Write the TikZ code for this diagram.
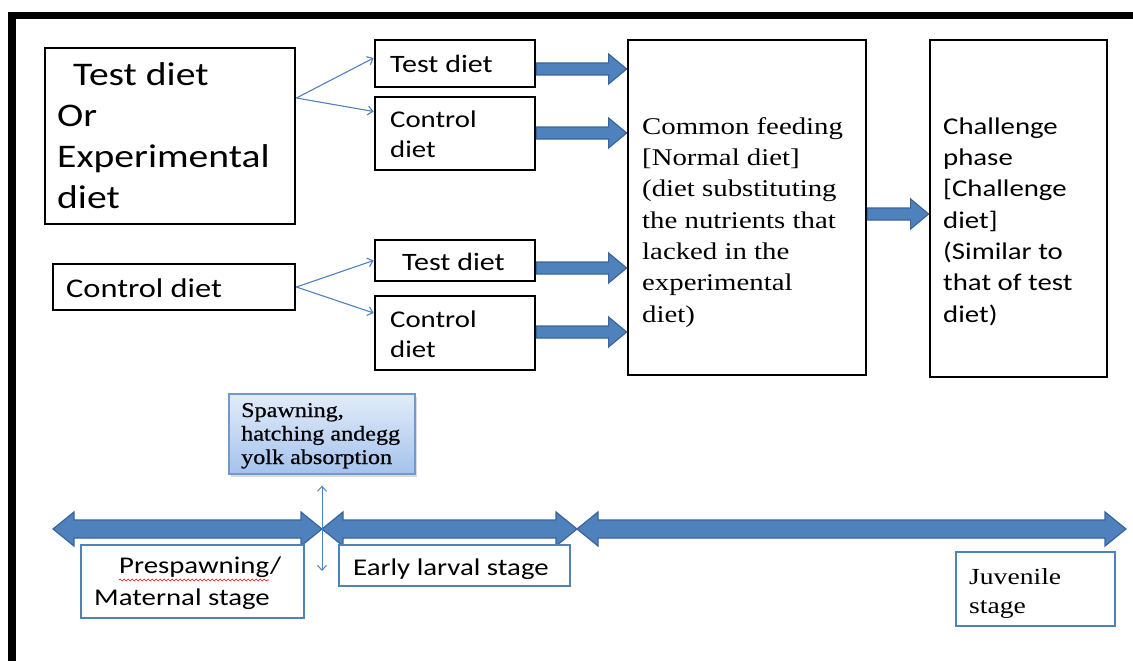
\documentclass[tikz,border=0pt]{standalone}
\usepackage{fontspec}
\setmainfont{Carlito}
\newfontfamily\calfont{Carlito}[FakeStretch=1.2]
\newfontfamily\serfont{Liberation Serif}[FakeStretch=1.2]
\newfontfamily\serboldish{Liberation Serif}[FakeStretch=1.15, FakeBold=0.6]
\usetikzlibrary{arrows.meta,calc,shadows,decorations.pathmorphing}

\definecolor{officeblue}{HTML}{4F81BD}
\definecolor{officeedge}{HTML}{3A659B}
\definecolor{spawntop}{HTML}{E2ECFA}
\definecolor{spawnbot}{HTML}{A4C2EC}
\definecolor{spawnedge}{HTML}{7099CF}

% broad horizontal block arrow with one head
\newcommand\fatarrow[2]{%
  \path[fat] let \p1=#1, \p2=#2 in
    (\x1,\y1+6pt) -- (\x2-18pt,\y1+6pt) -- (\x2-18pt,\y1+15pt) -- (\x2,\y1)
    -- (\x2-18pt,\y1-15pt) -- (\x2-18pt,\y1-6pt) -- (\x1,\y1-6pt) -- cycle;}
% broad horizontal block arrow with heads at both ends
\newcommand\stagearrow[2]{%
  \path[fat] let \p1=#1, \p2=#2 in
    (\x1,\y1) -- (\x1+21pt,\y1+17pt) -- (\x1+21pt,\y1+9pt) -- (\x2-21pt,\y1+9pt)
    -- (\x2-21pt,\y1+17pt) -- (\x2,\y1) -- (\x2-21pt,\y1-17pt) -- (\x2-21pt,\y1-9pt)
    -- (\x1+21pt,\y1-9pt) -- (\x1+21pt,\y1-17pt) -- cycle;}

\tikzset{
  blackbox/.style={draw=black, line width=2.8pt, fill=white, inner sep=0pt},
  bluebox/.style={draw=officeblue, line width=2.3pt, fill=white, inner sep=0pt},
  % multi-line texts are placed by the baseline of their last line
  txt/.style={anchor=base west, inner sep=0pt, align=left},
  fat/.style={fill=officeblue, draw=officeedge, line width=1.2pt, line join=miter},
  thinarrow/.style={draw=officeblue, line width=1.1pt,
    -{Straight Barb[length=5pt, width=9pt]}},
}

\begin{document}
\begin{tikzpicture}[x=1pt, y=-1pt]
\useasboundingbox (0,0) rectangle (1133,661);

% page frame
\fill[black] (7.5,12) rectangle (1133,19.5);
\fill[black] (7.5,12) rectangle (15.5,661);

% diet boxes
\node[blackbox, minimum width=250pt, minimum height=176pt] (A) at (170,136) {};
\node[blackbox, minimum width=160pt, minimum height=47pt] (B) at (455,63.5) {};
\node[blackbox, minimum width=160pt, minimum height=73pt] (C) at (455,133.5) {};
\node[blackbox, minimum width=242pt, minimum height=46pt] (D) at (174,287) {};
\node[blackbox, minimum width=160pt, minimum height=41pt] (E) at (455,260.5) {};
\node[blackbox, minimum width=160pt, minimum height=74pt] (F) at (455,333) {};
\node[blackbox, minimum width=238pt, minimum height=335pt] (G) at (747,207.5) {};
\node[blackbox, minimum width=177pt, minimum height=337pt] (H) at (1018.5,208.5) {};

\node[txt, font=\calfont\fontsize{33}{41}\selectfont] (At) at (57,208)
  {\hspace*{16pt}Test diet\\Or\\Experimental\\diet};
\node[txt, font=\calfont\fontsize{25}{31}\selectfont] (Bt) at (390,73) {Test diet};
\node[txt, font=\calfont\fontsize{24}{30.5}\selectfont] (Ct) at (390,157.5) {Control\\diet};
\node[txt, font=\calfont\fontsize{27}{33}\selectfont] (Dt) at (66,297) {Control diet};
\node[txt, font=\calfont\fontsize{25}{31}\selectfont] (Et) at (402,270) {Test diet};
\node[txt, font=\calfont\fontsize{24}{30.5}\selectfont] (Ft) at (390,357.5) {Control\\diet};
\node[txt, font=\serfont\fontsize{24}{31.3}\selectfont] (Gt) at (642,322)
  {Common feeding\\{[}Normal diet{]}\\(diet substituting\\the nutrients that\\lacked in the\\experimental\\diet)};
\node[txt, font=\calfont\fontsize{24}{31.3}\selectfont] (Ht) at (943,322)
  {Challenge\\phase\\{[}Challenge\\diet{]}\\(Similar to\\that of test\\diet)};

% splitting into the two groups
\draw[thinarrow] ([yshift=38pt]A.east) -- ([yshift=5.5pt]B.west);
\draw[thinarrow] ([yshift=38pt]A.east) -- ([yshift=22pt]C.west);
\draw[thinarrow] (D.east) -- (E.west);
\draw[thinarrow] (D.east) -- ([yshift=20pt]F.west);

% into common feeding, then the challenge
\fatarrow{([yshift=-5.5pt]B.east)}{(G.west)}
\fatarrow{([yshift=0.5pt]C.east)}{(G.west)}
\fatarrow{([yshift=-7.5pt]E.east)}{(G.west)}
\fatarrow{([yshift=1pt]F.east)}{(G.west)}
\fatarrow{([yshift=-6.5pt]G.east)}{(H.west)}

% timeline of life stages
\coordinate (t0) at (53,529);
\coordinate (t1) at (322,529);
\coordinate (t2) at (577,529);
\coordinate (t3) at (1126,529);
\stagearrow{(t0)}{(t1)}
\stagearrow{(t1)}{(t2)}
\stagearrow{(t2)}{(t3)}

\node[draw=spawnedge, line width=1.2pt, top color=spawntop, bottom color=spawnbot,
      minimum width=186pt, minimum height=80pt, inner sep=0pt,
      drop shadow={shadow xshift=2pt, shadow yshift=-3pt, opacity=0.3}] (S) at (322,434) {};
\node[txt, font=\serboldish\fontsize{21}{23.5}\selectfont] (St) at (241,464)
  {Spawning,\\hatching andegg\\yolk absorption};

\coordinate (vb) at (322,571);
\draw[draw=officeblue, line width=1pt,
      {Straight Barb[length=5pt, width=9pt]}-{Straight Barb[length=5pt, width=9pt]}]
  ([yshift=-11pt]S.south) -- (vb);

\node[bluebox, minimum width=223pt, minimum height=73pt] (P) at (192.5,581.5) {};
\node[bluebox, minimum width=231pt, minimum height=41pt] (L) at (454.5,565.5) {};
\node[bluebox, minimum width=159pt, minimum height=74pt] (J) at (1035.5,589) {};

\node[txt, font=\calfont\fontsize{24}{32}\selectfont] (Pt) at (94,605)
  {\hspace*{25pt}Prespawning/\\Maternal stage};
\draw[red, line width=0.6pt, decorate,
      decoration={snake, segment length=4pt, amplitude=0.9pt}]
  ([shift={(25,-25)}]Pt.base west) -- ++(150,0);
\node[txt, font=\calfont\fontsize{24}{30}\selectfont] (Lt) at (353,575) {Early larval stage};
\node[txt, font=\serfont\fontsize{23}{29}\selectfont] (Jt) at (969,613) {Juvenile\\stage};
\end{tikzpicture}
\end{document}
